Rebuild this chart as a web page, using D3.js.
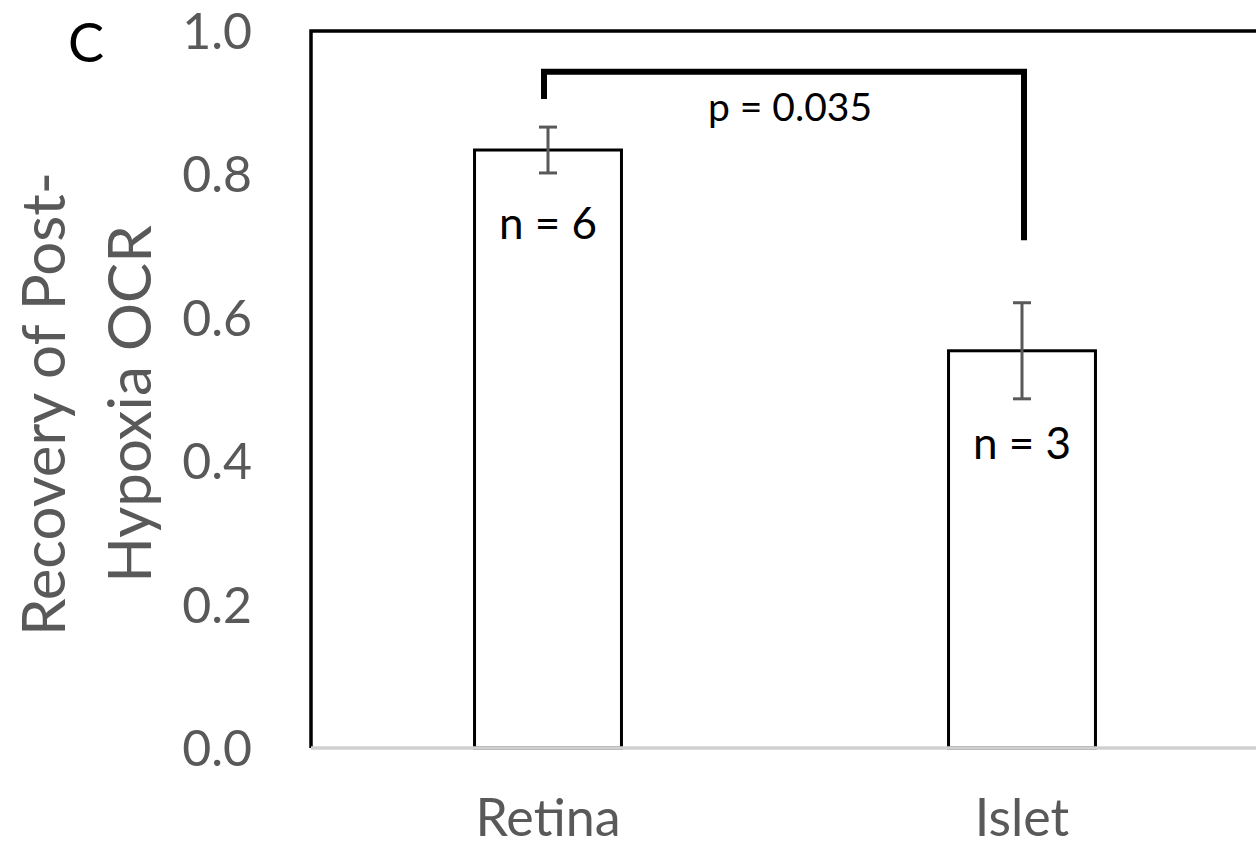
<!DOCTYPE html>
<html>
<head>
<meta charset="utf-8">
<script src="https://cdn.jsdelivr.net/npm/d3@7"></script>
<style>
  body { margin: 0; background: #fff; }
  svg { display: block; font-family: Lato, "Noto Sans", sans-serif; }
</style>
</head>
<body>
<div id="chart"></div>
<script>
// Datos del gráfico
const categories = ["Retina", "Islet"];
const means = [0.834, 0.554];
const errors = [0.032, 0.067];
const nLabels = ["n = 6", "n = 3"];
const yTicks = [0.0, 0.2, 0.4, 0.6, 0.8, 1.0];
const bracketLevels = [0.905, 0.943, 0.708]; // pierna izq, barra, pierna der
const pLabel = "p = 0.035";

const width = 1256, height = 848;
const plot = { left: 311, right: 1259, top: 31, bottom: 748 };
const grey = "#595959";

const svg = d3.select("#chart")
    .append("svg")
    .attr("width", width)
    .attr("height", height);

const x = d3.scaleBand().domain(categories).range([plot.left, plot.right]).padding(0);
const y = d3.scaleLinear().domain([0, 1]).range([plot.bottom, plot.top]);
const barW = x.bandwidth() * 0.31;
const cx = c => x(c) + x.bandwidth() / 2;

// Borde del área de trazado
svg.append("path")
    .attr("d", `M${plot.left},${plot.bottom} V${plot.top} H${plot.right}`)
    .attr("fill", "none")
    .attr("stroke", "#000")
    .attr("stroke-width", 3.5);

// Barras
svg.selectAll(".bar")
    .data(categories)
    .enter()
    .append("rect")
    .attr("class", "bar")
    .attr("x", d => cx(d) - barW / 2)
    .attr("width", barW)
    .attr("y", (d, i) => y(means[i]))
    .attr("height", (d, i) => y(0) - y(means[i]))
    .attr("fill", "#fff")
    .attr("stroke", "#000")
    .attr("stroke-width", 3);

// Eje X (línea gris)
svg.append("line")
    .attr("x1", plot.left).attr("x2", plot.right)
    .attr("y1", y(0)).attr("y2", y(0))
    .attr("stroke", "#d0d0d0")
    .attr("stroke-width", 3.5);

// Barras de error
const err = svg.selectAll(".err")
    .data(categories)
    .enter()
    .append("g")
    .attr("class", "err")
    .attr("stroke", grey)
    .attr("stroke-width", 3);

err.append("line")
    .attr("x1", cx).attr("x2", cx)
    .attr("y1", (d, i) => y(means[i] + errors[i]))
    .attr("y2", (d, i) => y(means[i] - errors[i]));
[1, -1].forEach(s => {
    err.append("line")
        .attr("x1", d => cx(d) - 9).attr("x2", d => cx(d) + 9)
        .attr("y1", (d, i) => y(means[i] + s * errors[i]))
        .attr("y2", (d, i) => y(means[i] + s * errors[i]));
});

// Etiquetas n (desplazamiento bajo el tope de cada barra)
const nOffset = [89, 108];
svg.selectAll(".nlab")
    .data(categories)
    .enter()
    .append("text")
    .attr("class", "nlab")
    .attr("x", cx)
    .attr("y", (d, i) => y(means[i]) + nOffset[i])
    .attr("text-anchor", "middle")
    .attr("font-size", 44)
    .attr("fill", "#000")
    .text((d, i) => nLabels[i]);

// Corchete de significancia
const bx1 = cx(categories[0]) - 4, bx2 = cx(categories[1]) + 2;
svg.append("path")
    .attr("d", `M${bx1},${y(bracketLevels[0])} V${y(bracketLevels[1])} H${bx2} V${y(bracketLevels[2])}`)
    .attr("fill", "none")
    .attr("stroke", "#000")
    .attr("stroke-width", 6);

svg.append("text")
    .attr("x", (bx1 + bx2) / 2 + 6)
    .attr("y", y(bracketLevels[1]) + 49)
    .attr("text-anchor", "middle")
    .attr("font-size", 39)
    .attr("fill", "#000")
    .text(pLabel);

// Etiquetas del eje Y
svg.selectAll(".ytick")
    .data(yTicks)
    .enter()
    .append("text")
    .attr("class", "ytick")
    .attr("x", 252)
    .attr("y", d => y(d))
    .attr("dy", "0.36em")
    .attr("text-anchor", "end")
    .attr("font-size", 50)
    .attr("fill", grey)
    .text(d => d.toFixed(1));

// Etiquetas de categoría
svg.selectAll(".xlab")
    .data(categories)
    .enter()
    .append("text")
    .attr("class", "xlab")
    .attr("x", cx)
    .attr("y", 836)
    .attr("text-anchor", "middle")
    .attr("font-size", 52)
    .attr("fill", grey)
    .text(d => d);

// Título del eje Y (dos líneas)
const yTitle = svg.append("text")
    .attr("transform", "translate(0,404) rotate(-90)")
    .attr("text-anchor", "middle")
    .attr("font-size", 60)
    .attr("fill", grey);
yTitle.append("tspan").attr("x", 0).attr("y", 65).text("Recovery of Post-");
yTitle.append("tspan").attr("x", 0).attr("y", 151).text("Hypoxia OCR");

// Letra del panel
svg.append("text")
    .attr("x", 68)
    .attr("y", 62)
    .attr("font-size", 54)
    .attr("fill", "#000")
    .text("C");
</script>
</body>
</html>
